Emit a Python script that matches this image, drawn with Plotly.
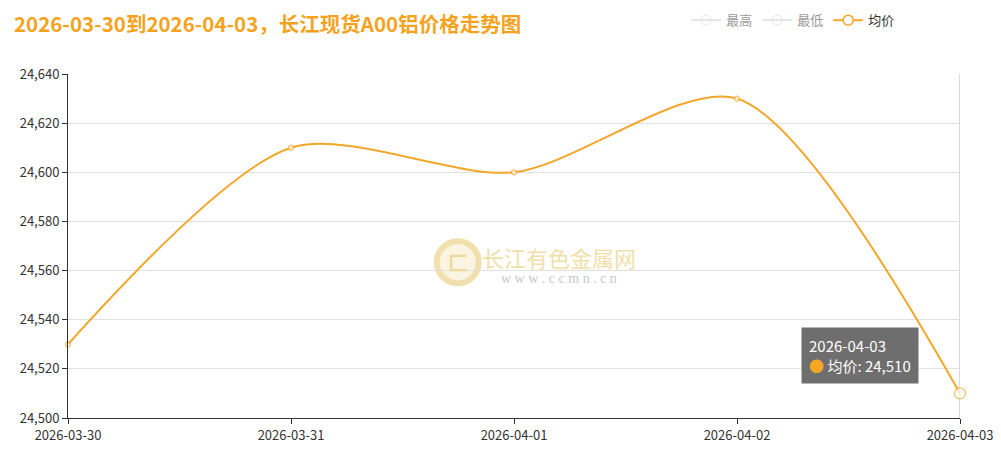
import plotly.graph_objects as go

''' datos '''
fechas = ['2026-03-30', '2026-03-31', '2026-04-01', '2026-04-02', '2026-04-03']
junjia = [24530, 24610, 24600, 24630, 24510]  # 均价
zuigao = [None] * len(fechas)  # 最高 (oculto en la leyenda)
zuidi = [None] * len(fechas)   # 最低 (oculto en la leyenda)
y_ticks = [24500, 24520, 24540, 24560, 24580, 24600, 24620, 24640]

titulo = '2026-03-30到2026-04-03，长江现货A00铝价格走势图'
naranja = '#f2a72a'
fuente = 'Noto Sans CJK SC'

fig = go.Figure()
fig.add_trace(go.Scatter(x=fechas, y=zuigao, mode='lines+markers', name='最高',
                         visible='legendonly',
                         line=dict(color='#cccccc', width=2),
                         marker=dict(symbol='circle-open', size=10, color='#cccccc')))
fig.add_trace(go.Scatter(x=fechas, y=zuidi, mode='lines+markers', name='最低',
                         visible='legendonly',
                         line=dict(color='#cccccc', width=2),
                         marker=dict(symbol='circle-open', size=10, color='#cccccc')))
# solo para la leyenda de 均价
fig.add_trace(go.Scatter(x=fechas, y=[None] * len(fechas), mode='lines+markers', name='均价',
                         line=dict(color=naranja, width=2),
                         marker=dict(symbol='circle', size=10, color='white',
                                     line=dict(color=naranja, width=1.5))))
# tamaño de marcador: el ultimo punto esta resaltado (tooltip)
tam = [5] * (len(fechas) - 1) + [11]
fig.add_trace(go.Scatter(x=fechas, y=junjia, mode='lines+markers', name='均价',
                         showlegend=False,
                         line=dict(color=naranja, width=2, shape='spline', smoothing=0.8),
                         marker=dict(symbol='circle', size=tam, color='white',
                                     line=dict(color=naranja, width=1.2)),
                         cliponaxis=False))

# linea del puntero en el ultimo dia
fig.add_shape(type='line', xref='x', yref='paper', x0=fechas[-1], x1=fechas[-1],
              y0=0, y1=1, line=dict(color='#cccccc', width=1.5), layer='below')

# marca de agua
fig.add_shape(type='circle', xref='paper', yref='paper', xsizemode='pixel', ysizemode='pixel',
              xanchor=0.437, yanchor=0.453, x0=-21, x1=21, y0=-21, y1=21,
              fillcolor='#fbf4e0', line=dict(color='#f1e0ae', width=6), layer='below')
fig.add_annotation(x=0.437, y=0.453, xref='paper', yref='paper', text='<b>匚</b>',
                   showarrow=False, font=dict(size=20, color='#eed89c', family=fuente))
fig.add_annotation(x=0.55, y=0.468, xref='paper', yref='paper', text='长江有色金属网',
                   showarrow=False, font=dict(size=22, color='#f1dfa9', family=fuente))
fig.add_annotation(x=0.55, y=0.405, xref='paper', yref='paper', text='w w w . c c m n . c n',
                   showarrow=False, font=dict(size=14, color='#c8c8c8', family='Liberation Serif'))

# tooltip
fig.add_annotation(x=0.822, y=0.264, xref='paper', yref='paper', xanchor='left', yanchor='top',
                   text=fechas[-1] + '<br><span style="color:#f5a623">●</span> 均价: '
                        + f'{junjia[-1]:,}',
                   align='left', showarrow=False, bgcolor='#6e6e6e', borderpad=7,
                   font=dict(size=15, color='white', family=fuente))

# la pagina tiene 8px de margen en el body
fig.update_layout(
    width=993, height=441,
    margin=dict(l=60, r=41, t=66, b=31, autoexpand=False),
    paper_bgcolor='white', plot_bgcolor='white',
    font=dict(family=fuente, size=13, color='#333333'),
    title=dict(text='<b>' + titulo + '</b>', x=0.006, xanchor='left', y=0.962, yanchor='middle',
               font=dict(size=20.5, color='#f5a31e', family=fuente)),
    legend=dict(orientation='h', x=0.693, y=1.2, xanchor='left', yanchor='top',
                font=dict(size=13, color='#333333'), itemwidth=30),
    showlegend=True,
)
fig.update_xaxes(type='category', range=[0, len(fechas) - 1], showline=True, linecolor='#333333',
                 ticks='outside', ticklen=5, tickcolor='#333333', showgrid=False,
                 automargin=False, tickfont=dict(size=13, color='#333333'))
fig.update_yaxes(range=[y_ticks[0], y_ticks[-1]], tickvals=y_ticks, tickformat=',',
                 showline=True, linecolor='#333333', ticks='outside', ticklen=5,
                 tickcolor='#333333', gridcolor='#e0e0e0', zeroline=False,
                 automargin=False, tickfont=dict(size=13, color='#333333'))

fig.write_html('out.html')
